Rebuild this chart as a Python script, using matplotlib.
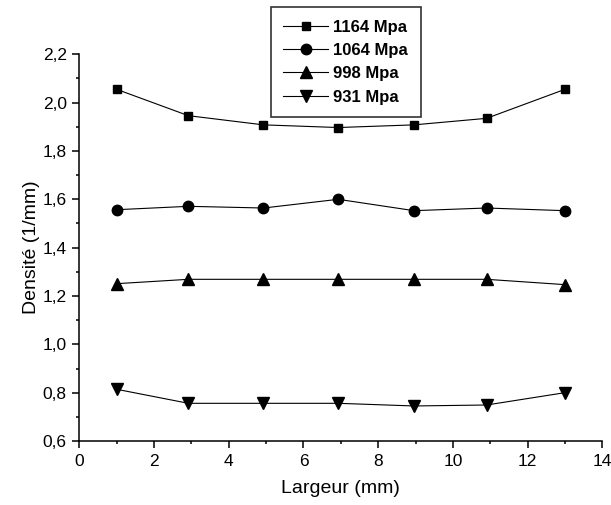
import numpy as np
import matplotlib.pyplot as plt
from matplotlib.ticker import MultipleLocator, FuncFormatter

plt.rcParams['font.family'] = ['Liberation Sans', 'DejaVu Sans']

# Largeur (mm) des points de mesure
largeur = [1.0, 2.92, 4.93, 6.93, 8.96, 10.9, 13.0]

# Densite (1/mm) pour chaque contrainte
d_1164 = [2.055, 1.946, 1.908, 1.897, 1.908, 1.935, 2.055]
d_1064 = [1.557, 1.571, 1.564, 1.600, 1.553, 1.564, 1.553]
d_998 = [1.251, 1.269, 1.269, 1.269, 1.269, 1.269, 1.247]
d_931 = [0.814, 0.756, 0.756, 0.756, 0.745, 0.749, 0.800]

labels = ['1164 Mpa', '1064 Mpa', '998 Mpa', '931 Mpa']


def main():
    fig = plt.figure(figsize=(6.11, 5.05), dpi=100)
    ax = fig.add_axes([0.1298, 0.1267, 0.856, 0.7658])

    series = [(d_1164, 's', 6), (d_1064, 'o', 7.5), (d_998, '^', 8), (d_931, 'v', 8)]
    for (vals, mk, ms), lab in zip(series, labels):
        ax.plot(largeur, vals, color='black', lw=0.8, marker=mk, ms=ms,
                mfc='black', mec='black', label=lab)

    ax.set_xlim(0, 14)
    ax.set_ylim(0.6, 2.2)
    ax.xaxis.set_major_locator(MultipleLocator(2))
    ax.xaxis.set_minor_locator(MultipleLocator(1))
    ax.yaxis.set_major_locator(MultipleLocator(0.2))
    ax.yaxis.set_minor_locator(MultipleLocator(0.1))
    ax.yaxis.set_major_formatter(FuncFormatter(lambda v, p: f'{v:.1f}'.replace('.', ',')))

    for side in ['top', 'right']:
        ax.spines[side].set_visible(False)
    for side in ['left', 'bottom']:
        ax.spines[side].set_linewidth(1.1)

    ax.tick_params(which='major', direction='out', length=5, width=1.1,
                   labelsize=12.5, pad=4)
    ax.tick_params(which='minor', direction='out', length=2.5, width=1.1)

    ax.set_xlabel('Largeur (mm)', fontsize=14, labelpad=8)
    ax.set_ylabel('Densité (1/mm)', fontsize=14, labelpad=2)

    leg = ax.legend(loc='upper left', bbox_to_anchor=(0.4435, 0.986),
                    bbox_transform=fig.transFigure, borderaxespad=0,
                    prop={'weight': 'bold', 'size': 12}, fancybox=False,
                    handlelength=2.7, handletextpad=0.3, labelspacing=0.5,
                    borderpad=0.75, framealpha=1)
    leg.get_frame().set_edgecolor('#333333')
    leg.get_frame().set_linewidth(1.2)

    fig.savefig('out.png', dpi=100)


if __name__ == "__main__":
    main()
